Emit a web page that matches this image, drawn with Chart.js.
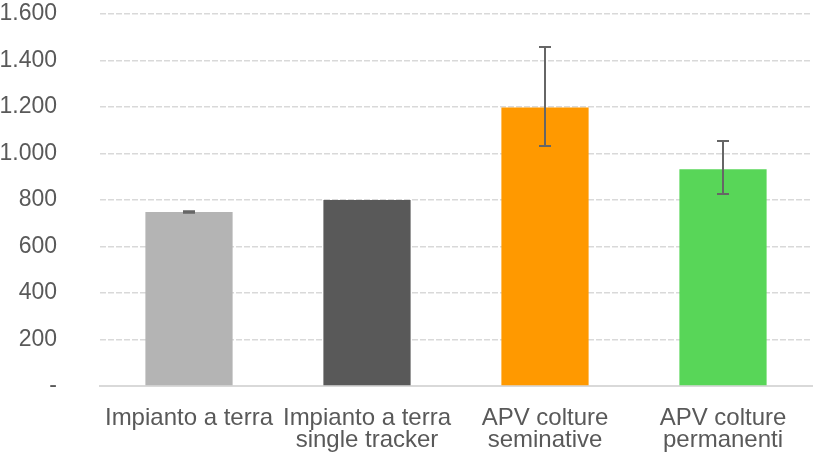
<!DOCTYPE html>
<html>
<head>
<meta charset="utf-8">
<script src="https://cdn.jsdelivr.net/npm/chart.js@4"></script>
<style>
  html, body { margin: 0; padding: 0; background: #fff; }
  #wrap { width: 817px; height: 456px; }
</style>
</head>
<body>
<div id="wrap"><canvas id="grafico"></canvas></div>
<script>
const categorie = [
    ['Impianto a terra'],
    ['Impianto a terra', 'single tracker'],
    ['APV colture', 'seminative'],
    ['APV colture', 'permanenti']
];
const valori = [748, 800, 1198, 932];
const erroreMin = [745, 800, 1032, 826];
const erroreMax = [752, 800, 1458, 1054];
const colori = ['#b4b4b4', '#595959', '#ff9900', '#58d658'];
const etichetteY = ['-', '200', '400', '600', '800', '1.000', '1.200', '1.400', '1.600'];

// barre di errore disegnate sopra le barre
const barreErrore = {
    id: 'barreErrore',
    afterDatasetsDraw(chart) {
        const ctx = chart.ctx;
        const meta = chart.getDatasetMeta(0);
        const y = chart.scales.y;
        ctx.save();
        ctx.strokeStyle = '#666666';
        ctx.lineWidth = 2;
        meta.data.forEach((bar, i) => {
            if (erroreMin[i] === erroreMax[i]) return;
            const x = bar.x;
            const yTop = y.getPixelForValue(erroreMax[i]);
            const yBot = y.getPixelForValue(erroreMin[i]);
            ctx.beginPath();
            ctx.moveTo(x, yTop);
            ctx.lineTo(x, yBot);
            ctx.moveTo(x - 6, yTop);
            ctx.lineTo(x + 6, yTop);
            ctx.moveTo(x - 6, yBot);
            ctx.lineTo(x + 6, yBot);
            ctx.stroke();
        });
        ctx.restore();
    }
};

const ctx = document.getElementById('grafico').getContext('2d');
new Chart(ctx, {
    type: 'bar',
    data: {
        labels: categorie,
        datasets: [{
            data: valori,
            backgroundColor: colori,
            borderWidth: 0,
            barPercentage: 0.49,
            categoryPercentage: 1
        }]
    },
    options: {
        responsive: true,
        maintainAspectRatio: false,
        animation: false,
        layout: { padding: { top: 14, right: 5, left: 0, bottom: 0 } },
        plugins: {
            legend: { display: false },
            tooltip: { enabled: false }
        },
        scales: {
            x: {
                grid: { display: false, drawTicks: false },
                border: { display: true, color: '#d9d9d9', width: 2 },
                ticks: {
                    color: '#595959',
                    padding: 21,
                    maxRotation: 0,
                    autoSkip: false,
                    font: { family: "'Liberation Sans', Arial, sans-serif", size: 24, lineHeight: 0.94 }
                },
                afterFit(scale) { scale.height = 70; }
            },
            y: {
                min: 0,
                max: 1600,
                grid: { color: '#d9d9d9', lineWidth: 1.6, drawTicks: false },
                border: { display: false, dash: [6, 2] },
                ticks: {
                    stepSize: 200,
                    color: '#595959',
                    padding: 43,
                    font: { family: "'Liberation Sans', Arial, sans-serif", size: 23 },
                    callback: (v, i) => etichetteY[i]
                },
                afterFit(scale) {
                    scale.width = 100;
                    scale.paddingTop = 0;
                    scale.paddingBottom = 0;
                }
            }
        }
    },
    plugins: [barreErrore]
});
</script>
</body>
</html>
